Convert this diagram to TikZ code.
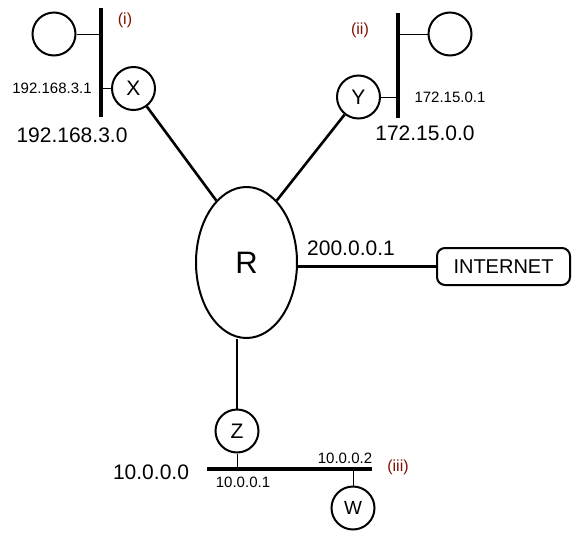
\documentclass[tikz,border=0pt]{standalone}
\usepackage{fontspec}
\setmainfont{Liberation Sans}
\usetikzlibrary{shapes.geometric}
\definecolor{netlabel}{RGB}{128,16,0}
\tikzset{
    host/.style={circle,draw,line width=2pt,minimum size=43pt,inner sep=0pt,font=\fontsize{21}{24}\selectfont},
    lan/.style={line width=3.2pt},
    tap/.style={line width=0.8pt},
    link/.style={line width=2.6pt},
    bignum/.style={font=\fontsize{21}{24}\selectfont},
    smallnum/.style={font=\fontsize{15}{17}\selectfont},
    tag/.style={text=netlabel,font=\fontsize{16}{18}\selectfont}
}
\begin{document}
\begin{tikzpicture}[x=1pt,y=-1pt]
        \useasboundingbox (0,0) rectangle (579,536);
        % router and internet
        \node at (246.5,262.5)[ellipse,draw,line width=2pt,minimum width=101pt,minimum height=151pt,inner sep=0pt,font=\fontsize{31}{34}\selectfont] (R) {R};
        \node at (503.5,266.5)[draw,rounded corners=8pt,line width=2pt,minimum width=133pt,minimum height=37pt,inner sep=0pt,font=\fontsize{20}{22}\selectfont] (net) {INTERNET};
        \draw[link] (net.west) -- (net.west -| R.east);
        \node at (351,248)[bignum] (rip) {200.0.0.1};
        % network (i)
        \coordinate (barAtop) at (101,8);
        \coordinate (barAbot) at (101,117);
        \draw[lan] (barAtop) -- (barAbot);
        \node at (54,34)[host] (hA) {};
        \node at (133.5,88.5)[host] (X) {X};
        \draw[tap] (hA.east) -- (hA.east -| barAtop);
        \draw[tap] (X.west) -- (X.west -| barAtop);
        \node at (125,20)[tag] (tA) {(i)};
        \node at (52,88)[smallnum] (ipX) {192.168.3.1};
        \node at (72,135)[bignum] (netA) {192.168.3.0};
        % network (ii)
        \coordinate (barBtop) at (398,13);
        \coordinate (barBbot) at (398,118);
        \draw[lan] (barBtop) -- (barBbot);
        \node at (450,34)[host] (hB) {};
        \node at (358.5,97)[host] (Y) {Y};
        \draw[tap] (hB.west) -- (hB.west -| barBtop);
        \draw[tap] (Y.east) -- (Y.east -| barBtop);
        \node at (360,30)[tag] (tB) {(ii)};
        \node at (450,97)[smallnum] (ipY) {172.15.0.1};
        \node at (425,133)[bignum] (netB) {172.15.0.0};
        % network (iii)
        \coordinate (barCleft) at (207,469);
        \coordinate (barCright) at (372,469);
        \draw[lan] (barCleft) -- (barCright);
        \node at (237,431)[host] (Z) {Z};
        \node at (353,508)[host,font=\fontsize{19}{22}\selectfont] (W) {W};
        \draw[tap] (Z.south) -- (Z.south |- barCleft);
        \draw[tap] (W.north) -- (W.north |- barCleft);
        \node at (398,467)[tag] (tC) {(iii)};
        \node at (243,482)[smallnum] (ipZ) {10.0.0.1};
        \node at (345,458)[smallnum] (ipW) {10.0.0.2};
        \node at (151,472)[bignum] (netC) {10.0.0.0};
        % links to router
        \draw[link] (X) -- (R.116);
        \draw[link] (Y) -- (R.64);
        \draw[link] (Z) -- (Z |- R.south);
\end{tikzpicture}
\end{document}
